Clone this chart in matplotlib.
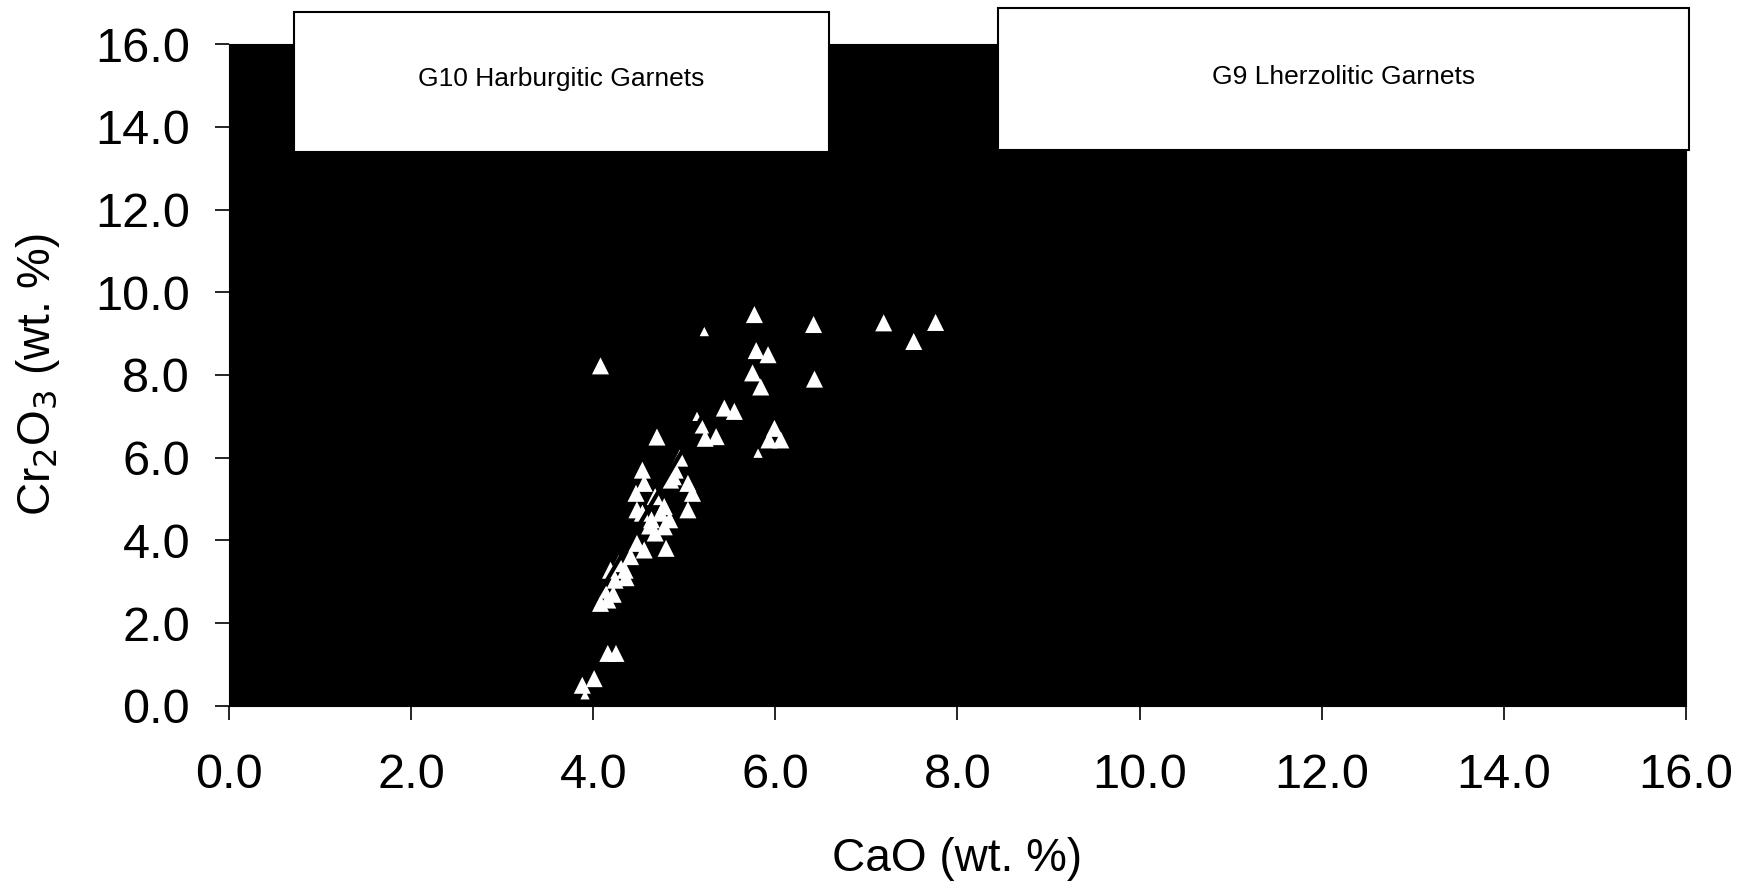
import matplotlib
matplotlib.use('Agg')
import matplotlib.pyplot as plt
from matplotlib.patches import Rectangle

plt.rcParams['font.family'] = ['Liberation Sans', 'DejaVu Sans']

# garnet analyses (CaO wt.%, Cr2O3 wt.%)
cao = [5.77, 6.42, 7.19, 7.76, 7.52, 6.43, 4.08, 5.79, 5.92, 5.75,
       5.84, 5.44, 5.55, 5.18, 5.23, 5.35, 4.70, 5.99, 6.06, 5.93,
       4.95, 4.54, 4.85, 5.04, 5.09, 4.47, 4.56, 5.04, 4.74, 4.78,
       4.48, 4.80, 4.56, 4.41, 4.35, 4.19, 4.16, 4.12, 4.24, 4.08,
       4.16, 4.25, 4.01, 3.88, 4.68, 4.78, 4.64, 4.84, 4.54, 4.68,
       4.48, 4.28, 4.88, 4.62, 4.90, 4.36, 4.22]
cr2o3 = [9.46, 9.22, 9.26, 9.27, 8.81, 7.90, 8.22, 8.59, 8.49, 8.05,
         7.71, 7.20, 7.12, 6.79, 6.47, 6.51, 6.50, 6.71, 6.43, 6.43,
         5.99, 5.70, 5.46, 5.38, 5.14, 5.14, 5.38, 4.74, 4.66, 4.33,
         4.74, 3.81, 3.77, 3.61, 3.28, 3.28, 2.56, 2.80, 3.04, 2.48,
         1.27, 1.27, 0.66, 0.50, 5.06, 4.82, 4.50, 4.50, 4.66, 4.18,
         3.93, 3.44, 5.54, 4.35, 5.70, 3.10, 2.70]

# half-hidden points (only a sliver shows in the scan)
cao_part = [5.22, 5.81, 5.14, 3.91]
cr2o3_part = [9.05, 6.11, 7.00, 0.27]

# G10 / G9 divide segment
div_x = [3.85, 5.25]
div_y = [1.9, 7.2]

ticks = [0.0, 2.0, 4.0, 6.0, 8.0, 10.0, 12.0, 14.0, 16.0]
labels_g = ['G10 Harburgitic Garnets', 'G9 Lherzolitic Garnets']

fig = plt.figure(figsize=(17.56, 8.86), dpi=100)
ax = fig.add_axes([0.1304, 0.2032, 0.8297, 0.7471])
ax.set_facecolor('black')

ax.scatter(cao, cr2o3, marker='^', s=150, c='white', edgecolors='none', zorder=3)
ax.scatter(cao_part, cr2o3_part, marker='^', s=45, c='white', edgecolors='none', zorder=3)
ax.plot(div_x, div_y, color='black', lw=3, zorder=4)

ax.set_xlim(0, 16)
ax.set_ylim(0, 16)
ax.set_xticks(ticks)
ax.set_yticks(ticks)
ax.set_xticklabels([f'{t:.1f}' for t in ticks])
ax.set_yticklabels([f'{t:.1f}' for t in ticks])
ax.tick_params(axis='x', direction='out', length=10, width=1.2, pad=24, labelsize=35)
ax.tick_params(axis='y', direction='out', length=10, width=1.2, pad=18, labelsize=35)

ax.set_xlabel('CaO (wt. %)', fontsize=33, labelpad=28)
ax.set_ylabel('Cr$_2$O$_3$ (wt. %)', fontsize=33, labelpad=24)

# white label boxes sitting over the top of the plot
boxes = [(0.71, 13.38, 5.88, 3.39), (8.45, 13.43, 7.58, 3.43)]
for (x0, y0, w, h), lab in zip(boxes, labels_g):
    ax.add_patch(Rectangle((x0, y0), w, h, facecolor='white', edgecolor='black',
                           lw=1.5, clip_on=False, zorder=5))
    ax.text(x0 + w / 2, y0 + h * 0.52, lab, ha='center', va='center',
            fontsize=19, zorder=6, clip_on=False)

fig.savefig('out.png', dpi=100)
